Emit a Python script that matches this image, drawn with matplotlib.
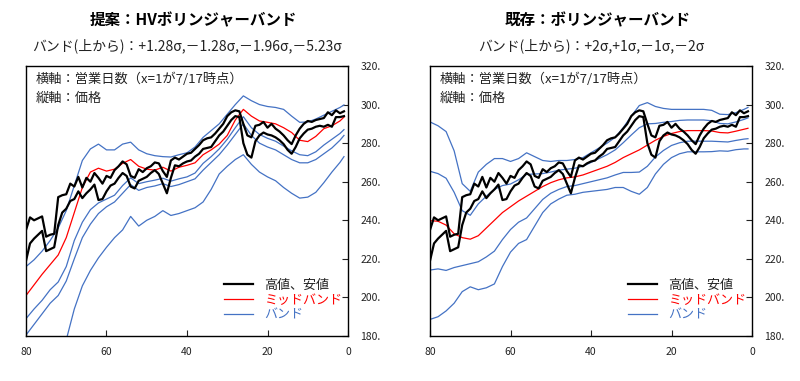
import matplotlib
matplotlib.use("Agg")
import matplotlib.pyplot as plt
from matplotlib.lines import Line2D

plt.rcParams['font.family'] = ['Noto Sans CJK JP', 'DejaVu Sans']

# ---------------- data ----------------
days = list(range(80, 0, -1))  # 80 .. 1
high = [235, 241.5, 240, 241, 242, 231.5, 232.5, 233, 252, 253,
        253.5, 259, 257.5, 262.5, 257, 262, 260, 264.5, 262, 259,
        263, 262, 266, 268, 270.5, 269, 263, 262, 266.5, 265,
        267, 268, 270, 269.5, 265.5, 262.5, 271, 272.5, 271.5, 273,
        274.5, 275, 277, 279, 281.5, 282.5, 283, 285, 287.5, 290,
        294, 296, 297, 296.5, 290, 284, 283, 289, 289.5, 291,
        288, 290, 287.5, 286, 284, 281.5, 279.5, 284, 287.5, 290,
        291.5, 291, 292, 292.5, 293, 296, 294.5, 297, 295.5, 296.5]
low = [219, 228, 230.5, 232.5, 234.5, 224, 225, 226, 237.5, 244,
       246, 250, 251, 255, 251.5, 254, 256, 258.5, 250.5, 251,
       255, 258, 259, 262, 264.5, 263, 257.5, 256.5, 260.5, 261.5,
       262.5, 264.5, 266, 264, 259, 254, 262, 268.5, 268, 269.5,
       270.5, 271, 273, 274.5, 277, 277.5, 278, 281, 284, 286,
       289, 292, 294, 293.5, 280, 274, 272.5, 281, 284, 285.5,
       284.5, 284, 283, 281.5, 279.5, 276.5, 274.5, 278, 282.5, 285,
       287, 287.5, 288.5, 289, 288.5, 289.5, 288.5, 293.5, 293.5, 294]

band_days = [80, 78, 76, 74, 72, 70, 68, 66, 64, 62, 60, 58, 56, 54, 52, 50,
             48, 46, 44, 42, 40, 38, 36, 34, 32, 30, 28, 26, 24, 22, 20, 18,
             16, 14, 12, 10, 8, 6, 4, 2, 1]

# proposal: HV Bollinger
hv_mid = [201, 206.5, 212, 217, 222, 231, 244, 257, 265, 267, 265.5, 266.5,
          269.5, 271.5, 268, 266.5, 266, 267.5, 265.5, 267.5, 268.5, 269.8,
          274, 276.5, 279.5, 284, 292, 297.5, 294, 291.5, 290.8, 290, 288,
          285.5, 281.5, 280.8, 283.5, 287.5, 289, 291.5, 293.5]
hv_up128 = [216, 219.5, 224, 229.5, 236, 245, 258, 271, 277, 279.5, 276.5,
            276.5, 279.5, 280.5, 276.5, 274.5, 273.5, 273, 272.8, 274, 275,
            278, 283, 286.5, 290, 295, 300, 304.5, 302, 300, 299, 298.5,
            297.5, 294, 290.8, 291, 292.5, 294.5, 296.5, 298.5, 299.8]
hv_dn128 = [189, 194, 198.5, 204, 208, 216, 229.5, 239, 245.5, 249, 251, 253,
            258, 262, 259, 260, 260.8, 261.8, 260.3, 261.5, 262.5, 264.5,
            269.5, 273, 277, 282, 288, 293.7, 288, 284.5, 282.5, 281, 278.5,
            276, 274, 273.5, 275.5, 279, 282, 285, 287]
hv_dn196 = [180.5, 186, 191.5, 197, 201, 208.5, 220, 231, 238, 243.5, 247,
            249.5, 254, 258.5, 255.5, 257, 257.8, 259, 257.5, 258.5, 260,
            261.5, 266, 270, 274, 279, 284.5, 290, 284, 280, 278, 276.5, 274,
            271.5, 269.8, 269.8, 271.5, 274.5, 277.5, 281.5, 284]
hv_dn523 = [140, 146, 152, 158, 166, 178, 194, 206, 214, 220.5, 226, 231,
            235, 242, 237, 240, 242, 245, 242.5, 243.5, 245, 246.5, 249.5,
            256, 264, 268, 271.5, 274, 269, 265, 262.5, 260.5, 257, 254,
            251.5, 252, 254.5, 259.5, 265, 270, 273]

# existing: Bollinger
bb_mid = [239.8, 239.5, 237.5, 233, 231, 230.2, 232, 236, 240, 244, 247, 250,
          252.5, 255, 257.5, 259.5, 261, 262, 262.5, 263.5, 265, 266.5, 268,
          270, 272.5, 274.5, 276.5, 279, 281.5, 283.5, 285, 286, 286.5, 286.5,
          286.5, 286.3, 285.5, 285.3, 286.2, 287.2, 287.7]
bb_up2 = [291, 289, 286, 276, 259, 255, 265, 269, 272, 272, 270.5, 272, 275,
          273, 271, 270.5, 271, 271, 271.5, 272.5, 275, 277.5, 280, 283, 288,
          294, 299.5, 301, 299, 298, 297.5, 297.5, 297.5, 297.5, 297.5, 297,
          295, 294.8, 295.8, 297.5, 298.5]
bb_up1 = [265.4, 264.2, 261.8, 254.5, 245, 242.6, 248.5, 252.5, 256, 258,
          258.8, 261, 263.8, 264, 264.2, 265, 266, 266.5, 267, 268, 270, 272,
          274, 276.5, 280.2, 284.2, 288, 290, 290.2, 290.8, 291.2, 291.8, 292,
          292, 292, 291.6, 290.2, 290, 291, 292.3, 293.1]
bb_dn1 = [214.2, 214.8, 214, 215.5, 216.5, 217.5, 218.5, 221, 224, 230,
          235.2, 239, 241.2, 246, 250.8, 254, 256, 257.5, 258, 259, 260, 261,
          262, 263.5, 264.8, 264.8, 265, 268, 272.8, 276.2, 278.8, 280.2, 281,
          281, 281, 281, 280.8, 280.6, 281.4, 282.1, 282.3]
bb_dn2 = [188.6, 190, 193, 197, 203, 205.5, 204, 205, 207, 216, 223.5, 228,
          230, 237, 244, 248.5, 251, 253, 253.5, 254.5, 255, 255.5, 256, 257,
          257, 255, 253.5, 257, 264, 269, 272.5, 274.5, 275.5, 275.5, 275.5,
          275.6, 276, 275.8, 276.6, 277, 277]

y_ticks = [180, 200, 220, 240, 260, 280, 300, 320]
x_ticks = [80, 60, 40, 20, 0]

titles = ["提案：HVボリンジャーバンド", "既存：ボリンジャーバンド"]
subtitles = ["バンド(上から)：+1.28σ,－1.28σ,－1.96σ,－5.23σ",
             "バンド(上から)：+2σ,+1σ,－1σ,－2σ"]
note_lines = ["横軸：営業日数（x=1が7/17時点）", "縦軸：価格"]
legend_labels = ["高値、安値", "ミッドバンド", "バンド"]

BLACK = "#000000"
RED = "#FF0000"
BLUE = "#4472C4"
TEXT = "#222222"

fig = plt.figure(figsize=(8.0, 3.81), dpi=100)

axes_specs = [
    (0.0325, 0.1181, 0.4025, 0.7087),
    (0.5375, 0.1181, 0.4025, 0.7087),
]

panels = [
    (hv_mid, [hv_up128, hv_dn128, hv_dn196, hv_dn523]),
    (bb_mid, [bb_up2, bb_up1, bb_dn1, bb_dn2]),
]

for i, (spec, (mid, bands)) in enumerate(zip(axes_specs, panels)):
    ax = fig.add_axes(spec)
    for b in bands:
        ax.plot(band_days, b, color=BLUE, lw=0.9)
    ax.plot(band_days, mid, color=RED, lw=0.9)
    ax.plot(days, high, color=BLACK, lw=1.6)
    ax.plot(days, low, color=BLACK, lw=1.6)

    ax.set_xlim(80, 0)
    ax.set_ylim(180, 320)
    ax.set_xticks(x_ticks)
    ax.set_xticklabels([str(t) for t in x_ticks])
    ax.yaxis.tick_right()
    ax.set_yticks(y_ticks)
    ax.set_yticklabels([f"{t}." for t in y_ticks])
    ax.tick_params(axis='y', direction='in', length=4, width=0.8,
                   labelsize=7.5, pad=9, colors=TEXT, left=False)
    ax.tick_params(axis='x', direction='in', length=4, width=0.8,
                   labelsize=7.5, pad=8, colors=TEXT)
    for s in ax.spines.values():
        s.set_linewidth(1.0)
        s.set_color(BLACK)

    ax.text(0.03, 0.975, note_lines[0], transform=ax.transAxes, ha='left',
            va='top', fontsize=9.5, color=TEXT)
    ax.text(0.03, 0.905, note_lines[1], transform=ax.transAxes, ha='left',
            va='top', fontsize=9.5, color=TEXT)

    handles = [Line2D([], [], color=BLACK, lw=1.6),
               Line2D([], [], color=RED, lw=0.9),
               Line2D([], [], color=BLUE, lw=0.9)]
    leg = ax.legend(handles, legend_labels, loc='lower left',
                    bbox_to_anchor=(0.615, 0.055), frameon=False,
                    fontsize=9.4, handlelength=2.2, handletextpad=0.9,
                    labelspacing=0.12, borderpad=0, borderaxespad=0)
    for t, c in zip(leg.get_texts(), [TEXT, RED, BLUE]):
        t.set_color(c)

    cx = spec[0] + spec[2] / 2
    fig.text(cx + 0.008, 0.947, titles[i], ha='center', va='center',
             fontsize=11.2, fontweight='bold', color=BLACK)
    fig.text(cx, 0.879, subtitles[i], ha='center', va='center',
             fontsize=10, color=TEXT)

fig.savefig("out.png", dpi=100)
